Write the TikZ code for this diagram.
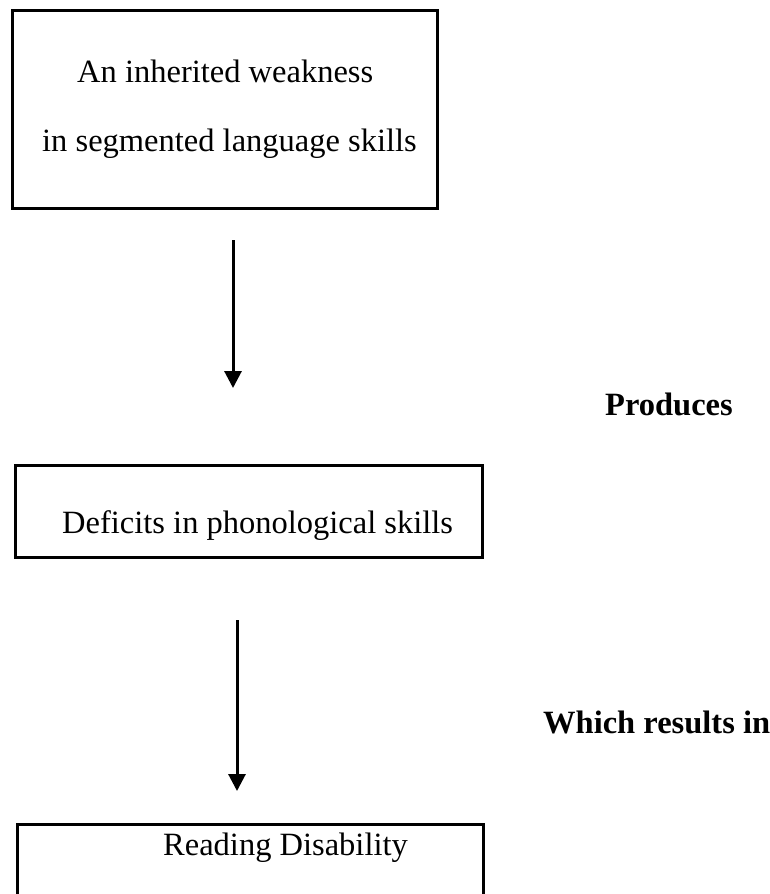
\documentclass[tikz,border=0pt]{standalone}
\usepackage{fontspec}
\setmainfont{Liberation Serif}
\usepackage{tikz}
\usetikzlibrary{arrows.meta}

\begin{document}
\begin{tikzpicture}[x=1pt,y=-1pt,>={Triangle[width=17pt,length=17pt]}]
	\tikzstyle{every node}=[font=\fontsize{32.5}{39}\selectfont]
	\tikzstyle{box}=[draw,line width=3pt,inner sep=0pt]
	\tikzstyle{txt}=[anchor=base west,inner sep=0pt]
	\tikzstyle{verb}=[txt,font=\fontsize{32.5}{39}\selectfont\bfseries]
	\useasboundingbox (0,0) rectangle (770,894);
	\clip (0,0) rectangle (770,894);
	% boxes
	\node[box,minimum width=425pt,minimum height=198pt] (weakbox) at (224.5,109) {};
	\node[box,minimum width=467pt,minimum height=92pt] (deficitbox) at (248.5,511) {};
	\node[box,minimum width=466pt,minimum height=132pt] (readbox) at (250,890) {};
	% texts
	\node[txt] (weak1) at (77,82) {An inherited weakness};
	\node[txt] (weak2) at (42,151) {in segmented language skills};
	\node[txt] (deficit) at (62,533) {Deficits in phonological skills};
	\node[txt] (read) at (163,855) {Reading Disability};
	\node[verb] (produces) at (605,415) {Produces};
	\node[verb] (results) at (543,733) {Which results in};
	% arrows
	\coordinate (a1) at (233,240);
	\coordinate (b1) at (233,388);
	\coordinate (a2) at (237,620);
	\coordinate (b2) at (237,791);
	\draw[->,line width=3pt] (a1) -- (b1);
	\draw[->,line width=3pt] (a2) -- (b2);
\end{tikzpicture}
\end{document}
